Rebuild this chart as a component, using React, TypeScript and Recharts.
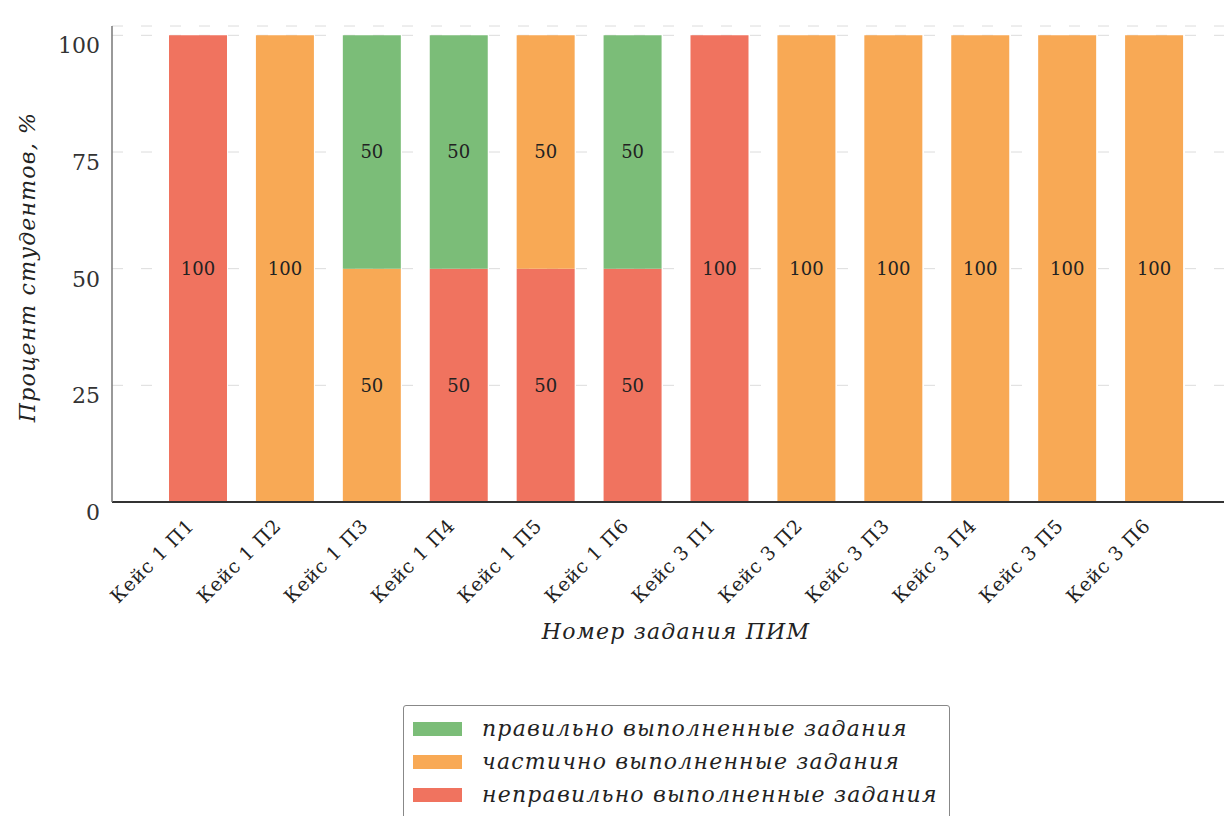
import { BarChart, Bar, XAxis, YAxis, CartesianGrid, LabelList, Legend } from 'recharts';

// categories and stacked values (percent of students)
const tasks = [
  'Кейс 1 П1', 'Кейс 1 П2', 'Кейс 1 П3', 'Кейс 1 П4', 'Кейс 1 П5', 'Кейс 1 П6',
  'Кейс 3 П1', 'Кейс 3 П2', 'Кейс 3 П3', 'Кейс 3 П4', 'Кейс 3 П5', 'Кейс 3 П6',
];
const incorrect = [100, 0, 0, 50, 50, 50, 100, 0, 0, 0, 0, 0];
const partial = [0, 100, 50, 0, 50, 0, 0, 100, 100, 100, 100, 100];
const correct = [0, 0, 50, 50, 0, 50, 0, 0, 0, 0, 0, 0];
const yTicks = [0, 25, 50, 75, 100];

const FONT = '"DejaVu Serif", serif';

const series = [
  { key: 'incorrect', name: 'неправильно выполненные задания', color: '#f0735f' },
  { key: 'partial', name: 'частично выполненные задания', color: '#f8a955' },
  { key: 'correct', name: 'правильно выполненные задания', color: '#7bbd78' },
];

const data = tasks.map((task, i) => ({
  task,
  incorrect: incorrect[i],
  partial: partial[i],
  correct: correct[i],
}));

const XTick = ({ x, y, payload }: any) => (
  <g transform={`translate(${x - 3},${y + 25})`}>
    <text
      x={0}
      y={0}
      textAnchor="end"
      transform="rotate(-45)"
      fontFamily={FONT}
      fontSize={19}
      letterSpacing={0.8}
      fill="#222"
    >
      {payload.value}
    </text>
  </g>
);

const YTick = ({ x, y, payload }: any) => (
  <text
    x={x - 4}
    y={y + 12}
    textAnchor="end"
    dominantBaseline="middle"
    fontFamily={FONT}
    fontSize={22}
    fill="#333"
  >
    {payload.value}
  </text>
);

const YLabel = ({ viewBox }: any) => {
  const cx = 29;
  const cy = viewBox.y + viewBox.height / 2 + 3;
  return (
    <text
      x={cx}
      y={cy}
      textAnchor="middle"
      dominantBaseline="middle"
      transform={`rotate(-90, ${cx}, ${cy})`}
      fontFamily={FONT}
      fontStyle="italic"
      fontSize={22}
      letterSpacing={1.2}
      fill="#222"
    >
      Процент студентов, %
    </text>
  );
};

const XLabel = ({ viewBox }: any) => (
  <text
    x={viewBox.x + viewBox.width / 2 + 8}
    y={viewBox.y + 131}
    textAnchor="middle"
    dominantBaseline="middle"
    fontFamily={FONT}
    fontStyle="italic"
    fontSize={22}
    letterSpacing={1.2}
    fill="#222"
  >
    Номер задания ПИМ
  </text>
);

const renderLegend = () => (
  <div
    style={{
      border: '1px solid #888',
      borderRadius: 3,
      padding: '6px 0 20px 9px',
      background: '#fff',
      fontFamily: FONT,
      fontStyle: 'italic',
      fontSize: 22,
      letterSpacing: 1.2,
      color: '#222',
    }}
  >
    {[...series].reverse().map((s) => (
      <div key={s.key} style={{ display: 'flex', alignItems: 'center', height: 33 }}>
        <span style={{ display: 'inline-block', width: 49, height: 14, background: s.color, marginRight: 20 }} />
        <span>{s.name}</span>
      </div>
    ))}
  </div>
);

const valueLabel = (v: any) => (v > 0 ? v : '');

export default function App() {
  return (
    <div style={{ position: 'absolute', left: 0, top: 0, width: 1224, height: 816, background: '#fff', overflow: 'hidden' }}>
      <BarChart
        width={1224}
        height={816}
        data={data}
        margin={{ top: 26, right: 0, left: 0, bottom: 184 }}
        barSize={58}
      >
        <CartesianGrid vertical={false} stroke="#dcdcdc" strokeDasharray="11 18" />
        <XAxis
          dataKey="task"
          height={130}
          interval={0}
          padding={{ left: 43, right: 26 }}
          tickLine={false}
          tickSize={0}
          tickMargin={0}
          axisLine={{ stroke: '#333', strokeWidth: 2 }}
          tick={<XTick />}
          label={<XLabel />}
        />
        <YAxis
          width={112}
          domain={[0, 102]}
          ticks={yTicks}
          tickLine={false}
          tickSize={0}
          tickMargin={8}
          axisLine={{ stroke: '#777', strokeWidth: 1.5 }}
          tick={<YTick />}
          label={<YLabel />}
        />
        <Legend
          layout="horizontal"
          verticalAlign="middle"
          align="center"
          content={renderLegend}
          wrapperStyle={{ position: 'absolute', left: 403, top: 705, width: 547 }}
        />
        {series.map((s) => (
          <Bar key={s.key} dataKey={s.key} name={s.name} stackId="a" fill={s.color} isAnimationActive={false}>
            <LabelList
              dataKey={s.key}
              position="center"
              formatter={valueLabel}
              fontFamily={FONT}
              fontSize={18}
              fill="#222"
            />
          </Bar>
        ))}
      </BarChart>
    </div>
  );
}
